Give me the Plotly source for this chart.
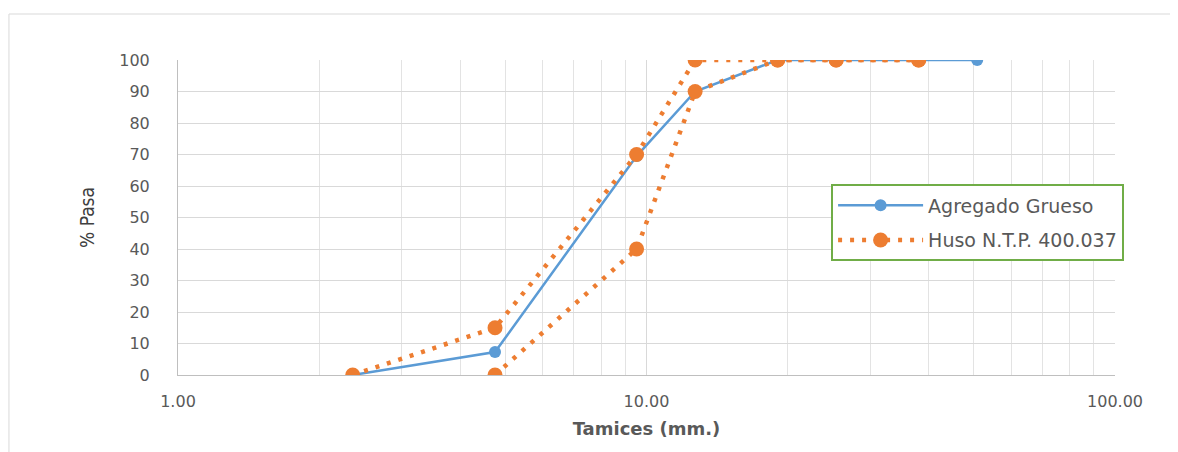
import plotly.graph_objects as go

# Data
sieves_agg = [2.36, 4.75, 9.525, 12.7, 19.05, 25.4, 38.1, 50.8]
pass_agg = [0, 7.3, 69.5, 90, 100, 100, 100, 100]

sieves_upper = [2.36, 4.75, 9.525, 12.7, 19.05, 25.4, 38.1]
pass_upper = [0, 15, 70, 100, 100, 100, 100]

sieves_lower = [4.75, 9.525, 12.7, 19.05, 25.4, 38.1]
pass_lower = [0, 40, 90, 100, 100, 100]

x_tickvals = [1, 10, 100]
x_ticktext = ["1.00", "10.00", "100.00"]
y_tickvals = list(range(0, 101, 10))

blue = "#5B9BD5"
orange = "#ED7D31"
dot = "4px,8px"
wide = "DejaVu Sans, Verdana, sans-serif"

fig = go.Figure()
fig.add_trace(go.Scatter(x=sieves_agg, y=pass_agg, mode="lines+markers",
                         name="Agregado Grueso", legendgroup="a",
                         line=dict(color=blue, width=2.5),
                         marker=dict(color=blue, size=12)))
fig.add_trace(go.Scatter(x=sieves_upper, y=pass_upper, mode="lines+markers",
                         name="Huso N.T.P. 400.037", legendgroup="b",
                         line=dict(color=orange, width=4.5, dash=dot),
                         marker=dict(color=orange, size=15)))
fig.add_trace(go.Scatter(x=sieves_lower, y=pass_lower, mode="lines+markers",
                         name="Huso N.T.P. 400.037", legendgroup="b", showlegend=False,
                         line=dict(color=orange, width=4.5, dash=dot),
                         marker=dict(color=orange, size=15)))

minor_vals = []
for d in [1, 10]:
    for k in range(2, 10):
        minor_vals.append(d * k)

fig.update_layout(
    width=1178, height=452,
    margin=dict(l=170, r=71, t=52, b=85),
    paper_bgcolor="white", plot_bgcolor="white",
    font=dict(family=wide, color="#595959", size=16),
    xaxis=dict(type="log", range=[0, 2], tickvals=x_tickvals, ticktext=x_ticktext,
               showgrid=True, gridcolor="#D9D9D9", gridwidth=1,
               minor=dict(tickvals=minor_vals, showgrid=True, gridcolor="#E3E3E3", gridwidth=1),
               showline=True, linecolor="#BFBFBF", linewidth=1,
               ticks="", ticklabelstandoff=12,
               tickfont=dict(size=16, color="#595959", family=wide),
               title=dict(text="<b>Tamices (mm.)</b>", font=dict(size=18, color="#595959", family=wide), standoff=12),
               zeroline=False),
    yaxis=dict(range=[0, 100], tickvals=y_tickvals, showgrid=True, gridcolor="#D9D9D9",
               showline=True, linecolor="#BFBFBF", linewidth=1, ticks="",
               ticklabelstandoff=24,
               tickfont=dict(size=16, color="#595959", family=wide),
               title=dict(text="% Pasa", font=dict(size=19, color="#404040", family="Liberation Sans Narrow, DejaVu Sans Condensed, sans-serif"), standoff=19),
               zeroline=False),
    legend=dict(x=0.697, y=0.605, xanchor="left", yanchor="top",
                bgcolor="white", bordercolor="#70AD47", borderwidth=2,
                font=dict(size=19, color="#595959", family=wide),
                traceorder="grouped", tracegroupgap=7, itemwidth=85,
                entrywidth=300, entrywidthmode="pixels"),
    shapes=[dict(type="rect", xref="paper", yref="paper",
                 x0=-0.1804, x1=1.2, y0=-0.4, y1=1.146,
                 line=dict(color="#D9D9D9", width=1), fillcolor="rgba(0,0,0,0)", layer="below")],
)

fig.write_html("out.html")
